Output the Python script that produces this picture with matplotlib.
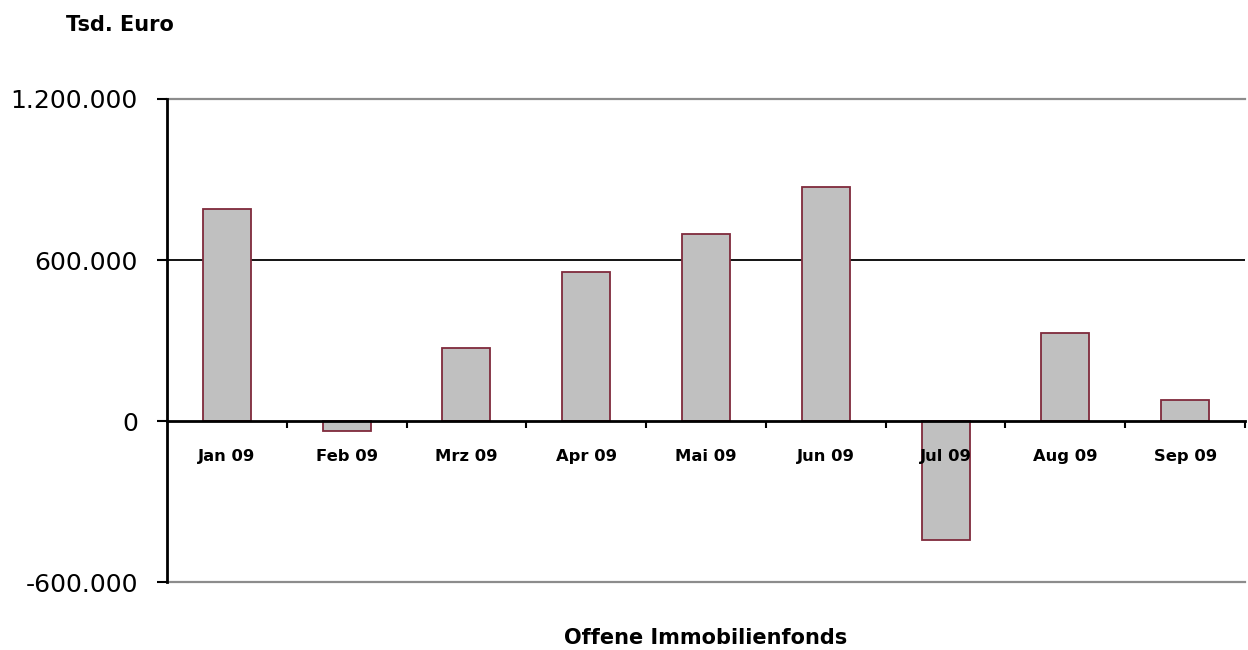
import matplotlib.pyplot as plt
from matplotlib.ticker import FuncFormatter, FixedLocator

monate = ['Jan 09', 'Feb 09', 'Mrz 09', 'Apr 09', 'Mai 09', 'Jun 09', 'Jul 09', 'Aug 09', 'Sep 09']
werte = [790000, -37000, 272000, 555000, 697000, 872000, -443000, 328000, 78000]

fig = plt.figure(figsize=(12.48, 6.5), dpi=100)
ax = fig.add_axes([0.1338, 0.1046, 0.8638, 0.7431])

x = list(range(len(monate)))
ax.bar(x, werte, width=0.4, color='#c0c0c0', edgecolor='#7f2a3c', linewidth=1.3, zorder=1.5)

ax.set_xlim(-0.5, len(monate) - 0.5)
ax.set_ylim(-600000, 1200000)

# Gitterlinien
ax.axhline(600000, color='black', linewidth=1.3, zorder=1)
ax.axhline(1200000, color='#8c8c8c', linewidth=1.6, zorder=1, clip_on=False)
ax.axhline(-600000, color='#8c8c8c', linewidth=1.6, zorder=1, clip_on=False)

# Spines
ax.spines['top'].set_visible(False)
ax.spines['right'].set_visible(False)
ax.spines['bottom'].set_position(('data', 0))
ax.spines['bottom'].set_linewidth(2)
ax.spines['left'].set_linewidth(2)

ax.set_yticks([-600000, 0, 600000, 1200000])
ax.yaxis.set_major_formatter(FuncFormatter(lambda v, p: f'{int(v):,}'.replace(',', '.')))
ax.tick_params(axis='y', direction='out', length=7, width=1.5, pad=14, labelsize=18)

ax.set_xticks(x)
ax.set_xticklabels(monate, fontweight='bold', fontsize=11.8)
ax.xaxis.set_minor_locator(FixedLocator([i + 0.5 for i in x]))
ax.tick_params(axis='x', which='major', length=0, pad=20)
ax.tick_params(axis='x', which='minor', direction='out', length=5, width=1.5)

fig.text(66 / 1248, 1 - 25 / 650, 'Tsd. Euro', fontsize=15, fontweight='bold', ha='left', va='center')
ax.set_xlabel('Offene Immobilienfonds', fontsize=15, fontweight='bold')
ax.xaxis.set_label_coords(0.5, -0.095)

fig.savefig('out.png', dpi=100)
